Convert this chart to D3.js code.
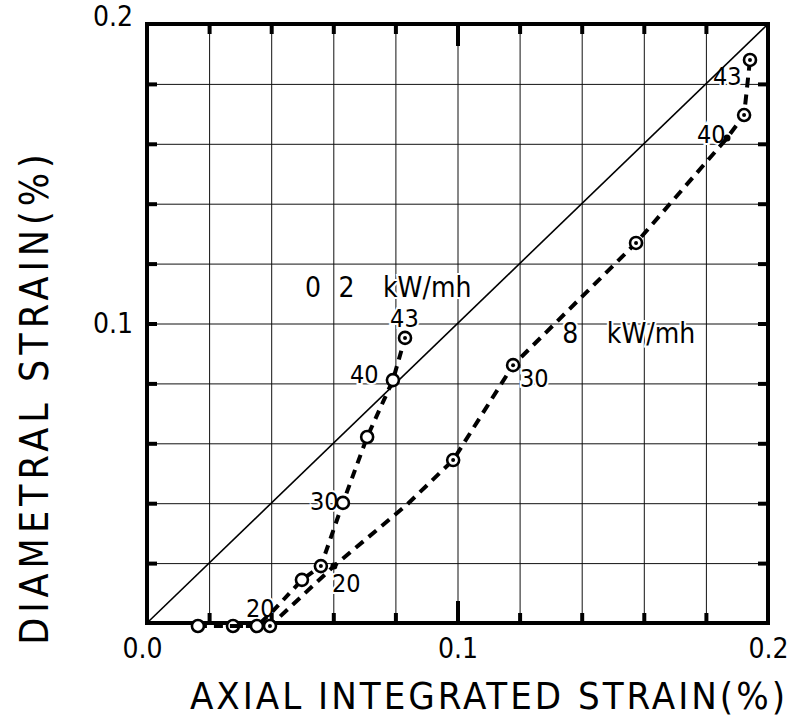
<!DOCTYPE html>
<html>
<head>
<meta charset="utf-8">
<script src="https://cdn.jsdelivr.net/npm/d3@7/dist/d3.min.js"></script>
<style>
body { margin: 0; background: #fff; }
svg text { font-family: 'Liberation Sans Narrow', 'DejaVu Sans Condensed', sans-serif; fill: #000; }
</style>
</head>
<body>
<script>
// 0.2 kW/mh run (steep branch)
var lowX = [0.0164, 0.0354, 0.0403, 0.0499, 0.0560, 0.0631, 0.0709, 0.0792, 0.0831];
var lowY = [-0.001, -0.001, 0.0037, 0.0144, 0.0190, 0.0401, 0.0621, 0.0811, 0.0952];
var lowMark = ["o", "o", "", "o", "dot", "o", "o", "o", "dot"];

// 8 kW/mh run
var highX = [0.0277, 0.0396, 0.0602, 0.0837, 0.0986, 0.1179, 0.1575, 0.1868, 0.1923, 0.1942];
var highY = [-0.001, -0.001, 0.0190, 0.0395, 0.0544, 0.0861, 0.1269, 0.1619, 0.1696, 0.1880];
var highMark = ["dot", "dot", "fill", "", "dot", "dot", "dot", "fill", "dot", "dot"];

// power labels along each run (text, x, y of baseline start)
var runLabels = [
    {t: "20", x: 0.0319, y: 0.0020}, {t: "30", x: 0.0525, y: 0.0377},
    {t: "40", x: 0.0654, y: 0.0801}, {t: "43", x: 0.0783, y: 0.0988},
    {t: "20", x: 0.0596, y: 0.0104}, {t: "30", x: 0.1201, y: 0.0788},
    {t: "40", x: 0.1771, y: 0.1603}, {t: "43", x: 0.1823, y: 0.1796}
];
var seriesNames = [
    {t: "0", x: 0.0509, y: 0.1088}, {t: "2", x: 0.0617, y: 0.1088}, {t: "kW/mh", x: 0.0760, y: 0.1088},
    {t: "8", x: 0.1337, y: 0.0935}, {t: "kW/mh", x: 0.1481, y: 0.0935}
];

var gridTicks = [0, 0.02, 0.04, 0.06, 0.08, 0.1, 0.12, 0.14, 0.16, 0.18, 0.2];
var xLabelTicks = [0, 0.1, 0.2];
var yLabelTicks = [0.1, 0.2];

var drawChart = function(){
    var pLeft = 147, pRight = 768, pTop = 24, pBottom = 623;
    var xScale = d3.scaleLinear().domain([0, 0.2]).range([pLeft, pRight]);
    var yScale = d3.scaleLinear().domain([0, 0.2]).range([pBottom, pTop]);

    var svg = d3.select("body").append("svg")
        .attr("width", 795)
        .attr("height", 726);

    // grid
    svg.append("g")
        .attr("transform", "translate(0," + pBottom + ")")
        .call(d3.axisBottom(xScale).tickValues(gridTicks).tickSize(-(pBottom - pTop)).tickFormat(""))
        .call(function(g){ g.select(".domain").remove(); g.selectAll("line").attr("stroke", "#111").attr("stroke-width", 1); });
    svg.append("g")
        .attr("transform", "translate(" + pLeft + ",0)")
        .call(d3.axisLeft(yScale).tickValues(gridTicks).tickSize(-(pRight - pLeft)).tickFormat(""))
        .call(function(g){ g.select(".domain").remove(); g.selectAll("line").attr("stroke", "#111").attr("stroke-width", 1); });

    // in-plot labels (white halo breaks the grid like the original)
    var addText = function(list, size){
        svg.append("g").selectAll("text").data(list).enter().append("text")
            .attr("x", function(d){ return xScale(d.x); })
            .attr("y", function(d){ return yScale(d.y); })
            .attr("font-size", size)
            .attr("stroke", "#fff").attr("stroke-width", 4).attr("paint-order", "stroke")
            .text(function(d){ return d.t; });
    };
    addText(runLabels, 25);
    addText(seriesNames, 28);

    // inward thick ticks on all sides, longer at 0.1 on top/bottom
    var inner = gridTicks.slice(1, -1);
    var sides = [
        {axis: d3.axisBottom(xScale), tr: "translate(0," + pBottom + ")", dir: "y2", s: -1, long: true},
        {axis: d3.axisTop(xScale), tr: "translate(0," + pTop + ")", dir: "y2", s: 1, long: true},
        {axis: d3.axisLeft(yScale), tr: "translate(" + pLeft + ",0)", dir: "x2", s: 1, long: false},
        {axis: d3.axisRight(yScale), tr: "translate(" + pRight + ",0)", dir: "x2", s: -1, long: false}
    ];
    sides.forEach(function(sd){
        var g = svg.append("g").attr("transform", sd.tr)
            .call(sd.axis.tickValues(inner).tickSize(0).tickFormat(""));
        g.select(".domain").remove();
        g.selectAll(".tick line")
            .attr("stroke", "#000").attr("stroke-width", 4)
            .attr(sd.dir, function(d){ return sd.s * ((sd.long && Math.abs(d - 0.1) < 1e-9) ? 22 : 10); });
    });

    // diagonal reference line
    svg.append("path").datum([0, 0.2])
        .attr("d", d3.line().x(function(d){ return xScale(d); }).y(function(d){ return yScale(d); }))
        .attr("stroke", "#000").attr("stroke-width", 1.6).attr("fill", "none");

    // frame
    svg.append("rect")
        .attr("x", pLeft).attr("y", pTop)
        .attr("width", pRight - pLeft).attr("height", pBottom - pTop)
        .attr("fill", "none").attr("stroke", "#000").attr("stroke-width", 4);

    var line = d3.line()
        .x(function(d){ return xScale(d.x); })
        .y(function(d){ return yScale(d.y); });

    var drawRun = function(xs, ys, marks, dash){
        var pts = xs.map(function(x, i){ return {x: x, y: ys[i], m: marks[i]}; });
        svg.append("path").datum(pts)
            .attr("d", line)
            .attr("fill", "none").attr("stroke", "#000")
            .attr("stroke-width", 4).attr("stroke-dasharray", dash);
        var m = svg.append("g").selectAll("g").data(pts.filter(function(p){ return p.m !== ""; }))
            .enter().append("g")
            .attr("transform", function(p){ return "translate(" + xScale(p.x) + "," + yScale(p.y) + ")"; });
        m.filter(function(p){ return p.m !== "fill"; }).append("circle")
            .attr("r", 6).attr("fill", "#fff").attr("stroke", "#000").attr("stroke-width", 2.6);
        m.filter(function(p){ return p.m !== "o"; }).append("circle")
            .attr("r", function(p){ return p.m === "fill" ? 3.5 : 2; }).attr("fill", "#000");
    };
    drawRun(highX, highY, highMark, "10,7");
    drawRun(lowX, lowY, lowMark, "9,7");

    // tick labels
    var xAxis = svg.append("g").attr("transform", "translate(0," + pBottom + ")")
        .call(d3.axisBottom(xScale).tickValues(xLabelTicks).tickSize(0).tickPadding(15).tickFormat(d3.format(".1f")));
    xAxis.select(".domain").remove();
    xAxis.selectAll("text").attr("font-size", 28)
        .attr("dx", function(d){ return d === 0 ? -5 : 0; });

    var yAxis = svg.append("g").attr("transform", "translate(" + pLeft + ",0)")
        .call(d3.axisLeft(yScale).tickValues(yLabelTicks).tickSize(0).tickPadding(14).tickFormat(d3.format(".1f")));
    yAxis.select(".domain").remove();
    yAxis.selectAll("text").attr("font-size", 28);
    yAxis.selectAll(".tick").filter(function(d){ return d === 0.2; }).select("text").attr("dy", "0.05em");

    svg.append("text")
        .attr("x", 489).attr("y", 709)
        .attr("text-anchor", "middle")
        .attr("font-size", 38).attr("letter-spacing", 3)
        .text("AXIAL INTEGRATED STRAIN(%)");

    svg.append("text")
        .attr("transform", "translate(48,397) rotate(-90)")
        .attr("text-anchor", "middle")
        .attr("font-size", 39).attr("letter-spacing", 5)
        .text("DIAMETRAL STRAIN(%)");
};

window.onload = drawChart;
</script>
</body>
</html>
